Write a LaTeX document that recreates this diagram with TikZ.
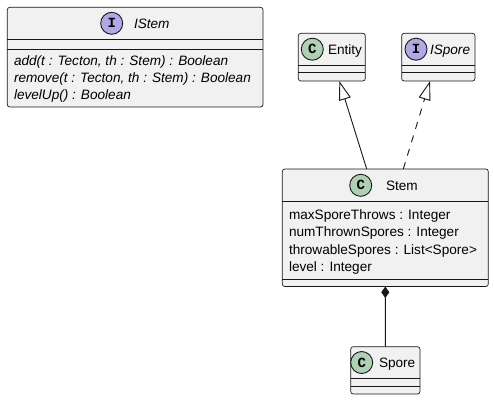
\documentclass[tikz,border=0pt]{standalone}
\usepackage{fontspec}
\setmainfont{Liberation Sans}
\newfontfamily\glyphfont{Liberation Mono}
\usetikzlibrary{arrows.meta}

\definecolor{boxfill}{HTML}{F1F1F1}
\definecolor{boxline}{HTML}{181818}
\definecolor{classmark}{HTML}{ADD1B2}
\definecolor{ifacemark}{HTML}{B4A7E5}

\begin{document}
\begin{tikzpicture}[x=1bp, y=-1bp,
  umlbox/.style={draw=boxline, fill=boxfill, line width=0.7bp,
    rounded corners=2.5bp, inner sep=0pt, outer sep=0pt, anchor=north west},
  sepline/.style={draw=boxline, line width=0.7bp},
  txt/.style={inner sep=0pt, outer sep=0pt, anchor=base west,
    font=\fontsize{13.6bp}{16bp}\selectfont},
  itxt/.style={txt, font=\fontsize{13.6bp}{16bp}\selectfont\itshape},
  badge/.style={circle, draw=boxline, line width=0.9bp, minimum size=22bp,
    inner sep=0pt, font=\fontsize{14bp}{14bp}\selectfont\glyphfont\bfseries},
  classbadge/.style={badge, fill=classmark},
  ifacebadge/.style={badge, fill=ifacemark},
  link/.style={draw=boxline, line width=0.9bp},
  realize/.style={link, -{Triangle[open, length=19bp, width=12bp]}},
  compose/.style={link, {Diamond[length=11.5bp, width=8bp]}-}
]
\useasboundingbox[fill=white] (0,0) rectangle (494,400);

% ---- IStem interface ----
\node[umlbox, minimum width=255.7bp, minimum height=99.7bp] (istem) at (7.3,7.3) {};
\draw[sepline] (istem.west |- 0,39.3) -- (istem.east |- 0,39.3);
\draw[sepline] (istem.west |- 0,49.3) -- (istem.east |- 0,49.3);
\node[ifacebadge] (istemmark) at (111.7,23.3) {I};
\node[itxt] (istemname) at (134,28.2) {IStem};
\node[itxt] (istemm1) at (14,65.7) {add(t : Tecton, th : Stem) : Boolean};
\node[itxt] (istemm2) at (14,82.7) {remove(t : Tecton, th : Stem) : Boolean};
\node[itxt] (istemm3) at (14,99.7) {levelUp() : Boolean};

% ---- Entity class ----
\node[umlbox, minimum width=67bp, minimum height=47.7bp] (entity) at (298.3,33.3) {};
\draw[sepline] (entity.west |- 0,65) -- (entity.east |- 0,65);
\draw[sepline] (entity.west |- 0,72.7) -- (entity.east |- 0,72.7);
\node[classbadge] (entitymark) at (312.3,49.2) {C};
\node[txt] (entityname) at (328,54.1) {Entity};

% ---- ISpore interface ----
\node[umlbox, minimum width=73.3bp, minimum height=47.7bp] (ispore) at (401.7,33.3) {};
\draw[sepline] (ispore.west |- 0,65) -- (ispore.east |- 0,65);
\draw[sepline] (ispore.west |- 0,72.7) -- (ispore.east |- 0,72.7);
\node[ifacebadge] (isporemark) at (416,49.2) {I};
\node[itxt] (isporename) at (430,54.1) {ISpore};

% ---- Stem class ----
\node[umlbox, minimum width=206bp, minimum height=117.5bp] (stem) at (282.3,169) {};
\draw[sepline] (stem.west |- 0,201.7) -- (stem.east |- 0,201.7);
\draw[sepline] (stem.west |- 0,279) -- (stem.east |- 0,279);
\node[classbadge] (stemmark) at (360.7,185.3) {C};
\node[txt] (stemname) at (386,190.2) {Stem};
\node[txt] (stema1) at (289,219) {maxSporeThrows : Integer};
\node[txt] (stema2) at (289,236.6) {numThrownSpores : Integer};
\node[txt] (stema3) at (289,254.2) {throwableSpores : List<Spore>};
\node[txt] (stema4) at (289,271.8) {level : Integer};

% ---- Spore class ----
\node[umlbox, minimum width=69.3bp, minimum height=47.3bp] (spore) at (350.7,346.7) {};
\draw[sepline] (spore.west |- 0,378.3) -- (spore.east |- 0,378.3);
\draw[sepline] (spore.west |- 0,386) -- (spore.east |- 0,386);
\node[classbadge] (sporemark) at (361.7,362.5) {C};
\node[txt] (sporename) at (379,367.4) {Spore};

% ---- Relations ----
\draw[realize] ([xshift=-18.6bp]stem.north) -- ([xshift=7.5bp]entity.south);
\draw[realize, dash pattern=on 7bp off 7bp] ([xshift=18bp]stem.north) -- ([xshift=-8.3bp]ispore.south);
\draw[compose] (stem.south) -- (spore.north);
\end{tikzpicture}
\end{document}
